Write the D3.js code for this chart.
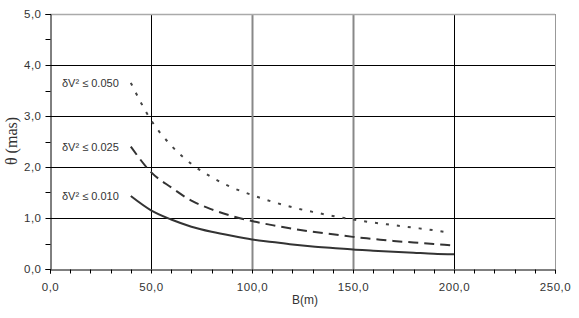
<!DOCTYPE html>
<html>
<head>
<meta charset="utf-8">
<script src="https://cdn.jsdelivr.net/npm/d3@7"></script>
<style>
  body { margin: 0; background: #fff; }
  svg { display: block; }
</style>
</head>
<body>
<script>
// Chart dimensions
const width = 579;
const height = 318;

// Data (B in m, theta in mas)
var baselines = [40, 50, 60, 70, 80, 90, 100, 110, 120, 130, 140, 150, 160, 170, 180, 190, 200];
var theta010 = [1.43, 1.15, 0.97, 0.83, 0.73, 0.65, 0.58, 0.53, 0.48, 0.44, 0.41, 0.38, 0.36, 0.34, 0.32, 0.30, 0.29];
var theta025 = [2.40, 1.90, 1.60, 1.34, 1.17, 1.04, 0.94, 0.86, 0.79, 0.73, 0.68, 0.63, 0.59, 0.55, 0.52, 0.49, 0.46];
var baselines050 = [40, 50, 60, 70, 80, 90, 100, 110, 120, 130, 140, 150, 160, 170, 180, 190, 195];
var theta050 = [3.65, 2.92, 2.42, 2.06, 1.80, 1.60, 1.45, 1.32, 1.21, 1.12, 1.04, 0.97, 0.91, 0.86, 0.81, 0.76, 0.73];
var seriesLabels = ["δV² ≤ 0.050", "δV² ≤ 0.025", "δV² ≤ 0.010"];
var xTicks = [0, 50, 100, 150, 200, 250];
var yTicks = [0, 1, 2, 3, 4, 5];

var svg = d3.select("body")
    .append("svg")
    .attr("width", width)
    .attr("height", height);

// Scales
var x = d3.scaleLinear().domain([0, 250]).range([50, 555]);
var y = d3.scaleLinear().domain([0, 5]).range([269, 14]);

var fmt = d => d3.format(".1f")(d).replace(".", ",");

// Grid lines
svg.append("g")
    .selectAll("line")
    .data(yTicks.slice(1, -1))
    .join("line")
    .attr("x1", x(0)).attr("x2", x(250))
    .attr("y1", d => y(d) + 0.5).attr("y2", d => y(d) + 0.5)
    .attr("stroke", "#000");
svg.append("g")
    .selectAll("line")
    .data(xTicks.slice(1, -1))
    .join("line")
    .attr("x1", d => Math.round(x(d)) + 0.5).attr("x2", d => Math.round(x(d)) + 0.5)
    .attr("y1", y(0)).attr("y2", y(5))
    .attr("stroke", d => (d == 100 || d == 150) ? "#888" : "#000")
    .attr("stroke-width", d => (d == 100 || d == 150) ? 2 : 1);

// Top and right border
svg.append("line")
    .attr("x1", x(0)).attr("x2", x(250))
    .attr("y1", y(5) + 0.5).attr("y2", y(5) + 0.5)
    .attr("stroke", "#aaa").attr("stroke-width", 1.5);
svg.append("line")
    .attr("x1", x(250) + 0.5).attr("x2", x(250) + 0.5)
    .attr("y1", y(5)).attr("y2", y(0))
    .attr("stroke", "#999");

// Axes
var xAxis = d3.axisBottom(x).tickValues(xTicks).tickFormat(fmt).tickSize(4).tickPadding(9);
var yAxis = d3.axisLeft(y).tickValues(yTicks).tickFormat(fmt).tickSize(5).tickPadding(4);

var gx = svg.append("g")
    .attr("transform", `translate(0, ${y(0) + 0.5})`)
    .call(xAxis);
var gy = svg.append("g")
    .attr("transform", `translate(${x(0) + 0.5}, 0)`)
    .call(yAxis);

// Minor ticks
gx.append("g")
    .selectAll("line")
    .data(d3.range(10, 250, 10).filter(d => d % 50 != 0))
    .join("line")
    .attr("x1", d => Math.round(x(d)) + 0.5).attr("x2", d => Math.round(x(d)) + 0.5)
    .attr("y1", 0).attr("y2", 4)
    .attr("stroke", "#000");
gy.append("g")
    .selectAll("line")
    .data([0.5, 1.5, 2.5, 3.5, 4.5])
    .join("line")
    .attr("x1", -5).attr("x2", 0)
    .attr("y1", d => Math.round(y(d)) + 0.5).attr("y2", d => Math.round(y(d)) + 0.5)
    .attr("stroke", "#000");

svg.selectAll(".domain").attr("stroke", "#000");
svg.selectAll(".tick line").attr("stroke", "#000");
svg.selectAll(".tick text")
    .attr("font-family", "'Liberation Sans', Arial, sans-serif")
    .attr("font-size", 11.5)
    .attr("letter-spacing", 0.5)
    .attr("fill", "#333");

// Axis titles
svg.append("text")
    .attr("x", 305).attr("y", 304)
    .attr("text-anchor", "middle")
    .attr("font-family", "'Liberation Sans', Arial, sans-serif")
    .attr("font-size", 12)
    .attr("fill", "#333")
    .text("B(m)");
svg.append("text")
    .attr("transform", "translate(17, 141) rotate(-90)")
    .attr("text-anchor", "middle")
    .attr("font-family", "'Liberation Serif', 'Times New Roman', serif")
    .attr("font-size", 16)
    .attr("fill", "#333")
    .text("θ (mas)");

// Curves
var line = d3.line()
    .x(d => x(d[0]))
    .y(d => y(d[1]))
    .curve(d3.curveMonotoneX);

var series = [
    { pts: d3.zip(baselines050, theta050), dash: "3,8", color: "#444" },
    { pts: d3.zip(baselines, theta025), dash: "10,6", color: "#333" },
    { pts: d3.zip(baselines, theta010), dash: null, color: "#333" }
];

svg.append("g")
    .selectAll("path")
    .data(series)
    .join("path")
    .attr("d", d => line(d.pts))
    .attr("fill", "none")
    .attr("stroke", d => d.color)
    .attr("stroke-width", 2)
    .attr("stroke-dasharray", d => d.dash);

// Curve labels, left of each curve start
svg.append("g")
    .selectAll("text")
    .data(series)
    .join("text")
    .attr("x", d => x(d.pts[0][0]) - 12)
    .attr("y", d => y(d.pts[0][1]) + 4)
    .attr("text-anchor", "end")
    .attr("font-family", "'Liberation Sans', Arial, sans-serif")
    .attr("font-size", 11)
    .attr("fill", "#333")
    .text((d, i) => seriesLabels[i]);
</script>
</body>
</html>
